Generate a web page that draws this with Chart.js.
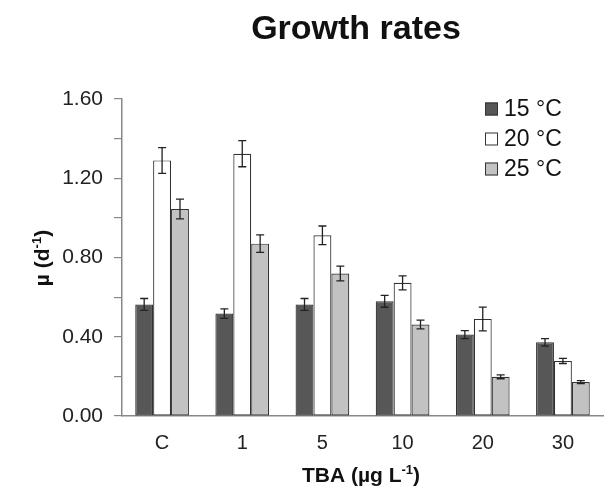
<!DOCTYPE html>
<html>
<head>
    <title>Growth rates</title>
    <style>
        body {
            margin: 0;
            padding: 0;
            background: #fff;
        }

        .wrap {
            width: 606px;
            height: 493px;
        }
    </style>
</head>
<body>
    <div class="wrap">
        <canvas id="growthChart" width="606" height="493"></canvas>
    </div>
    <script src="https://cdn.jsdelivr.net/npm/chart.js"></script>
    <script>
        // TBA concentrations and growth rates (mean, sd) per temperature
        var categories = ['C', '1', '5', '10', '20', '30'];
        var series15 = [0.563, 0.517, 0.563, 0.579, 0.411, 0.372];
        var err15 = [0.030, 0.024, 0.030, 0.030, 0.020, 0.019];
        var series20 = [1.290, 1.324, 0.912, 0.672, 0.490, 0.278];
        var err20 = [0.065, 0.066, 0.047, 0.035, 0.060, 0.013];
        var series25 = [1.045, 0.870, 0.719, 0.462, 0.198, 0.171];
        var err25 = [0.050, 0.044, 0.037, 0.022, 0.010, 0.008];
        var seriesLabels = ['15 °C', '20 °C', '25 °C'];
        var yMin = 0, yMax = 1.6, yStep = 0.2;

        var font = '"Liberation Sans", Arial, sans-serif';

        // error bars, legend and titles drawn on top of the bars
        var extras = {
            id: 'extras',
            afterDatasetsDraw: function(chart) {
                var ctx = chart.ctx;
                var y = chart.scales.y;
                ctx.save();
                ctx.strokeStyle = '#222';
                ctx.lineWidth = 1.3;
                chart.data.datasets.forEach(function(ds, i) {
                    var meta = chart.getDatasetMeta(i);
                    meta.data.forEach(function(bar, j) {
                        var v = ds.data[j], e = ds.errors[j];
                        var top = y.getPixelForValue(v + e);
                        var bot = y.getPixelForValue(v - e);
                        ctx.beginPath();
                        ctx.moveTo(bar.x, top);
                        ctx.lineTo(bar.x, bot);
                        ctx.moveTo(bar.x - 4, top);
                        ctx.lineTo(bar.x + 4, top);
                        ctx.moveTo(bar.x - 4, bot);
                        ctx.lineTo(bar.x + 4, bot);
                        ctx.stroke();
                    });
                });
                ctx.restore();
            },
            afterDraw: function(chart) {
                var ctx = chart.ctx;
                ctx.save();
                ctx.fillStyle = '#111';

                // title
                ctx.font = 'bold 34px ' + font;
                ctx.textAlign = 'center';
                ctx.textBaseline = 'middle';
                ctx.fillText('Growth rates', 356, 30);

                // legend
                ctx.font = '23px ' + font;
                ctx.textAlign = 'left';
                chart.data.datasets.forEach(function(ds, i) {
                    var cy = 109 + i * 30;
                    ctx.fillStyle = ds.backgroundColor;
                    ctx.fillRect(485, cy - 6.5, 13, 13);
                    ctx.strokeStyle = '#333';
                    ctx.lineWidth = 1;
                    ctx.strokeRect(485.5, cy - 6, 12, 12);
                    ctx.fillStyle = '#111';
                    ctx.fillText(ds.label, 504, cy + 1);
                });

                // x axis title with superscript
                ctx.textBaseline = 'alphabetic';
                var base = 'TBA (\u00b5g L', sup = '-1', tail = ')';
                ctx.font = 'bold 21px ' + font;
                var w1 = ctx.measureText(base).width;
                var w3 = ctx.measureText(tail).width;
                ctx.font = 'bold 13px ' + font;
                var w2 = ctx.measureText(sup).width;
                var x0 = 361 - (w1 + w2 + w3) / 2;
                ctx.font = 'bold 21px ' + font;
                ctx.fillText(base, x0, 482);
                ctx.font = 'bold 13px ' + font;
                ctx.fillText(sup, x0 + w1, 474);
                ctx.font = 'bold 21px ' + font;
                ctx.fillText(tail, x0 + w1 + w2, 482);

                // y axis title, rotated
                ctx.translate(49, 258);
                ctx.rotate(-Math.PI / 2);
                base = '\u00b5 (d'; tail = ')';
                w1 = ctx.measureText(base).width;
                w3 = ctx.measureText(tail).width;
                ctx.font = 'bold 13px ' + font;
                w2 = ctx.measureText(sup).width;
                x0 = -(w1 + w2 + w3) / 2;
                ctx.font = 'bold 21px ' + font;
                ctx.fillText(base, x0, 0);
                ctx.font = 'bold 13px ' + font;
                ctx.fillText(sup, x0 + w1, -8);
                ctx.font = 'bold 21px ' + font;
                ctx.fillText(tail, x0 + w1 + w2, 0);
                ctx.restore();
            }
        };

        var barStyle = {
            borderColor: '#333',
            borderWidth: 1.2,
            borderSkipped: false,
            categoryPercentage: 0.67,
            barPercentage: 1.0
        };

        new Chart(document.getElementById('growthChart'), {
            type: 'bar',
            data: {
                labels: categories,
                datasets: [
                    Object.assign({ label: seriesLabels[0], data: series15, errors: err15, backgroundColor: '#575757' }, barStyle),
                    Object.assign({ label: seriesLabels[1], data: series20, errors: err20, backgroundColor: '#ffffff' }, barStyle),
                    Object.assign({ label: seriesLabels[2], data: series25, errors: err25, backgroundColor: '#c2c2c2' }, barStyle)
                ]
            },
            options: {
                responsive: false,
                animation: false,
                layout: {
                    padding: { top: 99, right: 3, left: 0, bottom: 0 }
                },
                plugins: {
                    legend: { display: false },
                    tooltip: { enabled: false }
                },
                scales: {
                    x: {
                        grid: { display: false },
                        border: { display: true, color: '#888', width: 1.5 },
                        ticks: {
                            color: '#222',
                            padding: 7,
                            font: { family: font, size: 20 }
                        },
                        afterFit: function(scale) { scale.height = 77; }
                    },
                    y: {
                        min: yMin,
                        max: yMax,
                        grid: { drawOnChartArea: false, drawTicks: true, tickLength: 8, color: '#888', lineWidth: 1.2 },
                        border: { display: true, color: '#888', width: 1.5 },
                        ticks: {
                            stepSize: yStep,
                            color: '#222',
                            padding: 11,
                            font: { family: font, size: 21 },
                            callback: function(v) {
                                return Math.round(v * 10) % 4 === 0 ? v.toFixed(2) : '';
                            }
                        },
                        afterFit: function(scale) { scale.width = 122; }
                    }
                }
            },
            plugins: [extras]
        });
    </script>
</body>
</html>
